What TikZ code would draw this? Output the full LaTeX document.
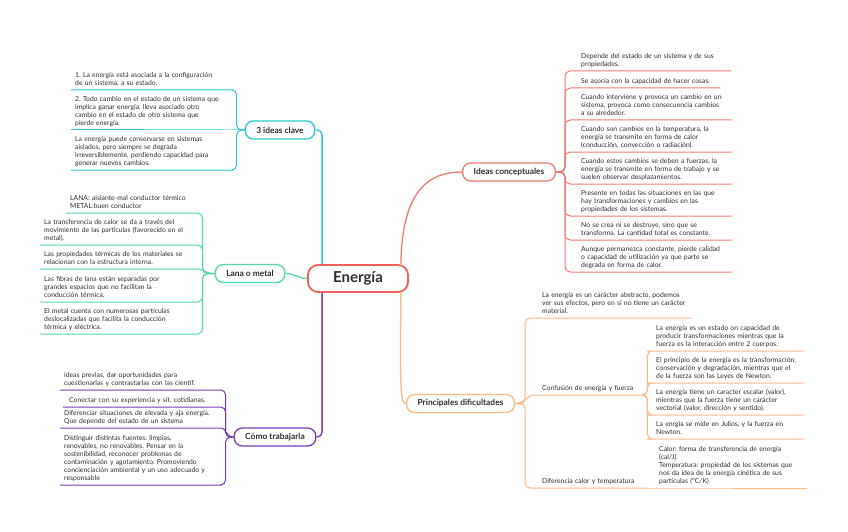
\documentclass[tikz,border=0pt]{standalone}
\usepackage{fontspec}
\setmainfont{Lato}
\frenchspacing

\definecolor{hubred}{HTML}{F25F5C}
\definecolor{redline}{HTML}{F47A74}
\definecolor{cyanline}{HTML}{2FC9D6}
\definecolor{mintline}{HTML}{52D8AE}
\definecolor{purpline}{HTML}{7B3BB0}
\definecolor{orangeline}{HTML}{FFB985}
\definecolor{txt}{HTML}{2E2E2E}

\tikzset{
  hub/.style={draw=hubred, line width=1.8pt, rounded corners=10pt, fill=white,
    minimum width=100pt, minimum height=27pt, text=txt,
    font=\fontsize{15}{18}\selectfont\bfseries},
  topic/.style={draw=#1, line width=1.3pt, rounded corners=8pt, fill=white,
    minimum height=18pt, inner xsep=11pt, text=txt,
    font=\fontsize{8.4}{10}\selectfont\bfseries},
  leaf/.style={anchor=south west, align=left, inner xsep=4pt, inner ysep=2pt,
    text=txt, font=\fontsize{6.8}{8}\selectfont, execute at end node=\strut},
  link/.style={draw=#1, line width=1pt, rounded corners=5pt},
  trunk/.style={draw=#1, line width=1.3pt, rounded corners=5pt}
}

\begin{document}
\begin{tikzpicture}[x=1pt,y=-1pt]
    \useasboundingbox (0,0) rectangle (848,532);
    \fill[white] (0,0) rectangle (848,532);

    % Central topic and main branches
    \node[hub] (energia) at (358,278.5) {Energía};
    \node[topic=cyanline] (clave) at (280,130) {3 ideas clave};
    \node[topic=mintline] (lana) at (250,273.5) {Lana o metal};
    \node[topic=purpline] (como) at (275,437) {Cómo trabajarla};
    \node[topic=redline] (ideas) at (509,172) {Ideas conceptuales};
    \node[topic=orangeline] (dific) at (460.5,403.5) {Principales dificultades};

    \draw[trunk=cyanline] (clave.east) -| ([xshift=15pt]energia.north west);
    \draw[trunk=mintline] (energia.west) to[out=180,in=0] (lana.east);
    \draw[trunk=purpline] ([xshift=15pt]energia.south west) |- (como.east);
    \draw[trunk=redline] ([xshift=-8pt]energia.north east)
        .. controls (402,195) and (425,172) .. (ideas.west);
    \draw[trunk=orangeline] ([xshift=-8pt]energia.south east)
        .. controls (400,385) and (400,403.5) .. (dific.west);

    % 3 ideas clave
    \node[leaf, text width=149pt] (clave1) at (71,90)
        {1. La energía está asociada a la configuración\\de un sistema, a su estado.};
    \node[leaf, text width=149pt] (clave2) at (71,130)
        {2. Todo cambio en el estado de un sistema que\\implica ganar energía, lleva asociado otro\\cambio en el estado de otro sistema que\\pierde energía.};
    \node[leaf, text width=149pt] (clave3) at (71,170)
        {La energía puede conservarse en sistemas\\aislados, pero siempre se degrada\\irreversiblemente, perdiendo capacidad para\\generar nuevos cambios.};
    \foreach \k in {1,3}
        \draw[link=cyanline] (clave.west) -- ++(-8,0) |- (clave\k.south east) -- (clave\k.south west);
    \draw[link=cyanline] (clave.west) -- (clave2.south east) -- (clave2.south west);

    % Lana o metal
    \node[leaf, text width=119pt] (lana1) at (66,213)
        {LANA: aislante-mal conductor térmico\\METAL:buen conductor};
    \node[leaf, text width=145pt] (lana2) at (40,245)
        {La transferencia de calor se da a través del\\movimiento de las partículas (favorecido en el\\metal).};
    \node[leaf, text width=145pt] (lana3) at (40,269)
        {Las propiedades térmicas de los materiales se\\relacionan con la estructura interna.};
    \node[leaf, text width=145pt] (lana4) at (40,302)
        {Las fibras de lana están separadas por\\grandes espacios que no facilitan la\\conducción térmica.};
    \node[leaf, text width=145pt] (lana5) at (40,334)
        {El metal cuenta con numerosas partículas\\deslocalizadas que facilita la conducción\\térmica y eléctrica.};
    \foreach \k in {1,2,4,5}
        \draw[link=mintline] (lana.west) -- ++(-12,0) |- (lana\k.south east) -- (lana\k.south west);
    \draw[link=mintline] (lana.west) to[out=180,in=0] (lana3.south east) -- (lana3.south west);

    % Cómo trabajarla
    \node[leaf, text width=149pt] (como1) at (60,390)
        {ideas previas, dar oportunidades para\\cuestionarlas y contrastarlas con las científ.};
    \node[leaf, text width=146pt] (como2) at (63,407)
        {\hspace*{2pt}Conectar con su experiencia y sit. cotidianas.};
    \node[leaf, text width=149pt] (como3) at (60,428)
        {Diferenciar situaciones de elevada y aja energía.\\Que depende del estado de un sistema};
    \node[leaf, text width=149pt] (como4) at (60,485)
        {Distinguir distintas fuentes: limpias,\\renovables, no renovables. Pensar en la\\sostenibilidad, reconocer problemas de\\contaminación y agotamiento. Promoviendo\\concienciación ambiental y un uso adecuado y\\responsable};
    \foreach \k in {1,2,4}
        \draw[link=purpline] (como.west) -- ++(-8,0) |- (como\k.south east) -- (como\k.south west);
    \draw[link=purpline] (como.west) to[out=180,in=0] (como3.south east) -- (como3.south west);

    % Ideas conceptuales
    \node[leaf, text width=146pt] (ideas1) at (577,71)
        {Depende del estado de un sistema y de sus\\propiedades.};
    \node[leaf, text width=135pt] (ideas2) at (577,88)
        {Se asocia con la capacidad de hacer cosas.};
    \node[leaf, text width=146pt] (ideas3) at (577,120)
        {Cuando interviene y provoca un cambio en un\\sistema, provoca como consecuencia cambios\\a su alrededor.};
    \node[leaf, text width=146pt] (ideas4) at (577,152)
        {Cuando son cambios en la temperatura, la\\energía se transmite en forma de calor\\(conducción, convección o radiación).};
    \node[leaf, text width=146pt] (ideas5) at (577,184)
        {Cuando estos cambios se deben a fuerzas, la\\energía se transmite en forma de trabajo y se\\suelen observar desplazamientos.};
    \node[leaf, text width=146pt] (ideas6) at (577,216)
        {Presente en todas las situaciones en las que\\hay transformaciones y cambios en las\\propiedades de los sistemas.};
    \node[leaf, text width=146pt] (ideas7) at (577,240)
        {No se crea ni se destruye, sino que se\\transforma. La cantidad total es constante.};
    \node[leaf, text width=146pt] (ideas8) at (577,272)
        {Aunque permanezca constante, pierde calidad\\o capacidad de utilización ya que parte se\\degrada en forma de calor.};
    \foreach \k in {1,...,8}
        \draw[link=redline] (ideas.east) -- ++(9,0) |- (ideas\k.south west) -- (ideas\k.south east);

    % Principales dificultades
    \node[leaf, text width=145pt] (dific1) at (538,318)
        {La energía es un carácter abstracto, podemos\\ver sus efectos, pero en sí no tiene un carácter\\material.};
    \node[leaf, text width=96pt] (dific2) at (538,395)
        {Confusión de energía y fuerza};
    \node[leaf, text width=101pt] (dific3) at (538,488)
        {Diferencia calor y temperatura};
    \foreach \k in {1,3}
        \draw[link=orangeline] (dific.east) -- ++(10,0) |- (dific\k.south west) -- (dific\k.south east);
    \draw[link=orangeline] (dific.east) to[out=0,in=180] (dific2.south west) -- (dific2.south east);

    \node[leaf, text width=143pt] (fuerza1) at (652,351)
        {La energía es un estado on capacidad de\\producir transformaciones mientras que la\\fuerza es la interacción entre 2 cuerpos.};
    \node[leaf, text width=143pt] (fuerza2) at (652,383)
        {El principio de la energía es la transformación,\\conservación y degradación, mientras que el\\de la fuerza son las Leyes de Newton.};
    \node[leaf, text width=143pt] (fuerza3) at (652,415)
        {La energía tiene un caracter escalar (valor),\\mientras que la fuerza tiene un carácter\\vectorial (valor, dirección y sentido).};
    \node[leaf, text width=143pt] (fuerza4) at (652,439)
        {La enrgía se mide en Julios, y la fuerza en\\Newton.};
    \foreach \k in {1,...,4}
        \draw[link=orangeline] (dific2.south east) -- ++(5,0) |- (fuerza\k.south west) -- (fuerza\k.south east);

    \node[leaf, text width=144pt] (calor) at (655,488)
        {Calor: forma de transferencia de energía\\(cal/J).\\Temperatura: propiedad de los sistemas que\\nos da idea de la energía cinética de sus\\partículas (°C/K)};
    \draw[link=orangeline] (dific3.south east) -- (calor.south west) -- (calor.south east);
\end{tikzpicture}
\end{document}
